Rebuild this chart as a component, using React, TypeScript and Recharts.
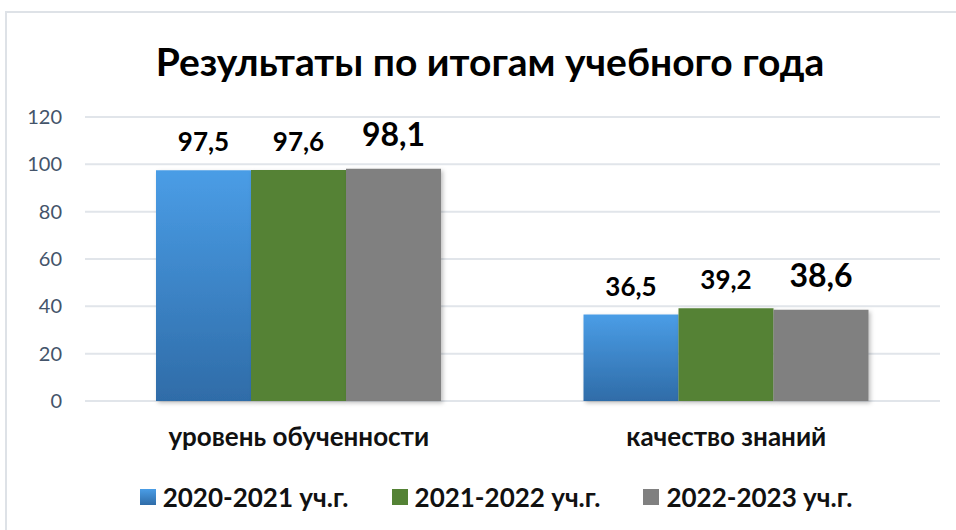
import React from 'react';
import { BarChart, Bar, XAxis, YAxis, CartesianGrid, Legend, LabelList } from 'recharts';

const categories = ['уровень обученности', 'качество знаний'];
const series2020 = [97.5, 36.5];
const series2021 = [97.6, 39.2];
const series2022 = [98.1, 38.6];
const seriesNames = ['2020-2021 уч.г.', '2021-2022 уч.г.', '2022-2023 уч.г.'];
const yTicks = [0, 20, 40, 60, 80, 100, 120];

const data = categories.map((c, i) => ({
  name: c,
  s1: series2020[i],
  s2: series2021[i],
  s3: series2022[i],
}));

const FONT = 'Lato, "Open Sans", sans-serif';
const fmt = (v: any) => String(v).replace('.', ',');

const legendItems = [
  { name: seriesNames[0], css: 'linear-gradient(#4A9DE6, #2F6CA8)' },
  { name: seriesNames[1], css: '#548235' },
  { name: seriesNames[2], css: '#808080' },
];

const LegendContent = () => (
  <div style={{ display: 'flex', justifyContent: 'center', gap: 43, fontFamily: FONT, fontWeight: 700, fontSize: 26, color: '#111', lineHeight: '30px' }}>
    {legendItems.map((it) => (
      <div key={it.name} style={{ display: 'flex', alignItems: 'center', gap: 7 }}>
        <span style={{ display: 'inline-block', width: 16, height: 16, background: it.css }} />
        <span>{it.name}</span>
      </div>
    ))}
  </div>
);

export default function App() {
  return (
    <div style={{ position: 'absolute', left: 0, top: 0, width: 956, height: 530, overflow: 'hidden', background: '#fff' }}>
      <div style={{ position: 'absolute', left: 5, top: 11, width: 1000, height: 600, border: '2px solid #DEE2E7', boxSizing: 'border-box' }} />
      <div style={{ position: 'absolute', left: 0, top: 35, width: 980, textAlign: 'center', fontFamily: FONT, fontWeight: 700, fontSize: 39, color: '#000', lineHeight: '52px' }}>
        Результаты по итогам учебного года
      </div>
      <div style={{ position: 'absolute', left: 0, top: 0 }}>
        <BarChart width={956} height={530} data={data} margin={{ top: 117, right: 16, left: 0, bottom: 89 }} barGap={0} barSize={95}>
          <defs>
            <linearGradient id="blueGrad" x1="0" y1="0" x2="0" y2="1">
              <stop offset="0%" stopColor="#4A9DE6" />
              <stop offset="100%" stopColor="#2F6CA8" />
            </linearGradient>
            <filter id="sh" x="-10%" y="-10%" width="130%" height="130%">
              <feDropShadow dx="2" dy="2" stdDeviation="2" floodColor="#000" floodOpacity="0.25" />
            </filter>
          </defs>
          <CartesianGrid vertical={false} stroke="#E1E5EA" strokeWidth={2} />
          <XAxis
            dataKey="name"
            axisLine={false}
            tickLine={false}
            tickSize={0}
            tickMargin={27}
            height={40}
            tick={{ fill: '#111', fontFamily: FONT, fontWeight: 700, fontSize: 26 }}
          />
          <YAxis
            domain={[0, 120]}
            ticks={yTicks}
            axisLine={false}
            tickLine={false}
            tickSize={0}
            tickMargin={23}
            width={85}
            tick={{ fill: '#44546A', fontFamily: FONT, fontSize: 20 }}
          />
          <Legend
            verticalAlign="middle"
            layout="horizontal"
            wrapperStyle={{ top: 482, left: 0, width: 992 }}
            content={<LegendContent />}
          />
          <Bar dataKey="s1" name={seriesNames[0]} fill="url(#blueGrad)" filter="url(#sh)" isAnimationActive={false}>
            <LabelList dataKey="s1" position="top" offset={19} formatter={fmt} style={{ fontFamily: FONT, fontWeight: 700, fontSize: 26, fill: '#000' }} />
          </Bar>
          <Bar dataKey="s2" name={seriesNames[1]} fill="#548235" filter="url(#sh)" isAnimationActive={false}>
            <LabelList dataKey="s2" position="top" offset={19} formatter={fmt} style={{ fontFamily: FONT, fontWeight: 700, fontSize: 26, fill: '#000' }} />
          </Bar>
          <Bar dataKey="s3" name={seriesNames[2]} fill="#808080" filter="url(#sh)" isAnimationActive={false}>
            <LabelList dataKey="s3" position="top" offset={23} formatter={fmt} style={{ fontFamily: FONT, fontWeight: 700, fontSize: 32, fill: '#000' }} />
          </Bar>
        </BarChart>
      </div>
    </div>
  );
}
